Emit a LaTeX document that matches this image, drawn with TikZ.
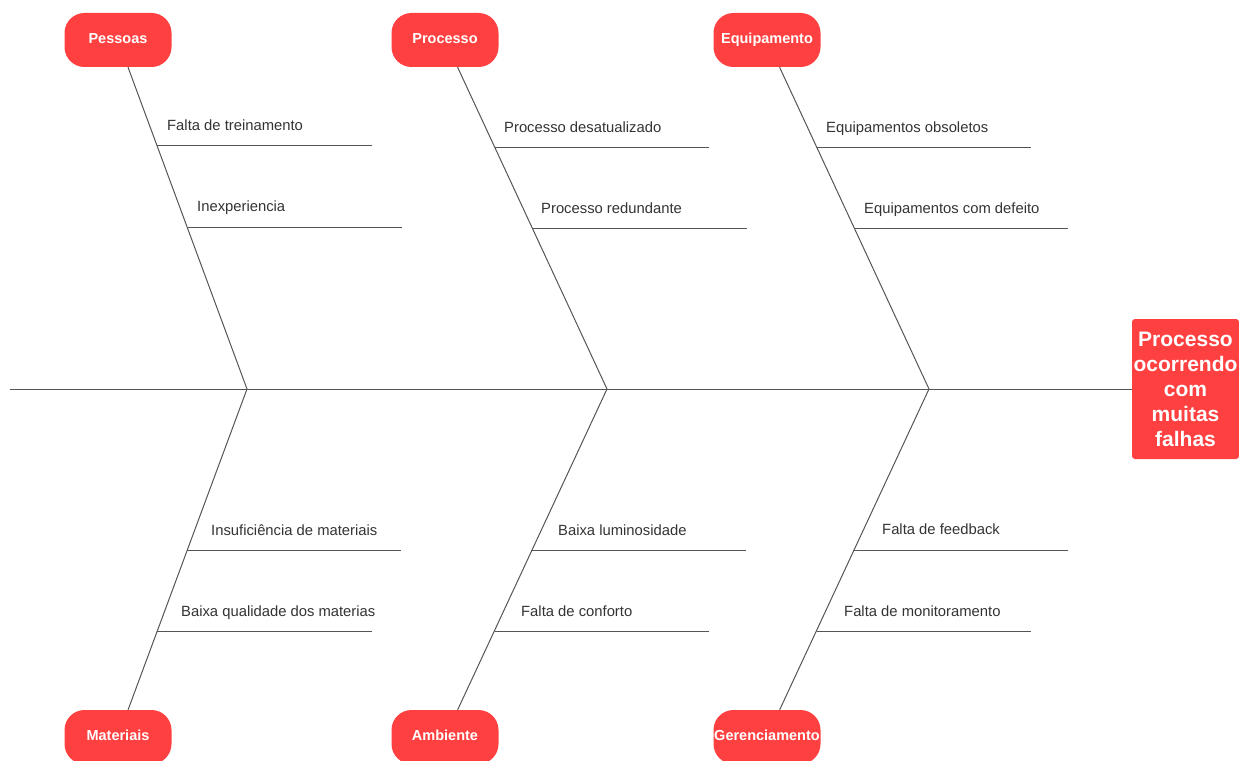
\documentclass[tikz,border=0pt]{standalone}
\usepackage{fontspec}
\setmainfont{Liberation Sans}
\definecolor{causered}{HTML}{FF4040}
\definecolor{boneline}{HTML}{555555}
\definecolor{labeltext}{HTML}{333333}
\begin{document}
\begin{tikzpicture}[x=1pt,y=-1pt,
  cat/.style={fill=causered,text=white,rounded corners=20pt,minimum width=107pt,minimum height=54pt,inner sep=0pt,text height=10pt,text depth=3.6pt,font=\fontsize{14.5}{17}\selectfont\bfseries},
  effect/.style={fill=causered,text=white,rounded corners=3pt,minimum width=107pt,minimum height=140pt,inner sep=0pt,align=center,font=\fontsize{21}{25}\selectfont\bfseries},
  cause/.style={anchor=base west,text=labeltext,inner sep=0pt,font=\fontsize{14.8}{17}\selectfont},
  bone/.style={draw=boneline,line width=1pt}]
\clip (0,0) rectangle (1239,760);
% categorias
\node[cat] (pessoas) at (118,40) {Pessoas}; \node[cat] (processo) at (445,40) {Processo}; \node[cat] (equip) at (767,40) {Equipamento};
\node[cat] (materiais) at (118,737) {Materiais}; \node[cat] (ambiente) at (445,737) {Ambiente}; \node[cat] (gerenc) at (767,737) {Gerenciamento};
\node[effect] (efeito) at (1185.5,389) {Processo\\ocorrendo\\com\\muitas\\falhas};
% espinha
\coordinate (tail) at (10,389);
\coordinate (j1) at (247,389); \coordinate (j2) at (607,389); \coordinate (j3) at (929,389);
\draw[bone] (tail) -- (efeito);
\draw[bone] (pessoas) -- (j1) -- (materiais) (processo) -- (j2) -- (ambiente) (equip) -- (j3) -- (gerenc);
% causas
\coordinate (pa1) at (157,145); \coordinate (pa2) at (372,145); \node[cause] (pa) at (167,130) {Falta de treinamento};
\coordinate (pb1) at (188,227); \coordinate (pb2) at (402,227); \node[cause] (pb) at (197,211) {Inexperiencia};
\coordinate (ra1) at (495,147); \coordinate (ra2) at (709,147); \node[cause] (ra) at (504,132) {Processo desatualizado};
\coordinate (rb1) at (533,228); \coordinate (rb2) at (747,228); \node[cause] (rb) at (541,213) {Processo redundante};
\coordinate (ea1) at (817,147); \coordinate (ea2) at (1031,147); \node[cause] (ea) at (826,132) {Equipamentos obsoletos};
\coordinate (eb1) at (855,228); \coordinate (eb2) at (1068,228); \node[cause] (eb) at (864,213) {Equipamentos com defeito};
\coordinate (ma1) at (187,550); \coordinate (ma2) at (401,550); \node[cause] (ma) at (211,535) {Insuficiência de materiais};
\coordinate (mb1) at (157,631); \coordinate (mb2) at (372,631); \node[cause] (mb) at (181,616) {Baixa qualidade dos materias};
\coordinate (aa1) at (531,550); \coordinate (aa2) at (746,550); \node[cause] (aa) at (558,535) {Baixa luminosidade};
\coordinate (ab1) at (495,631); \coordinate (ab2) at (709,631); \node[cause] (ab) at (521,616) {Falta de conforto};
\coordinate (ga1) at (853,550); \coordinate (ga2) at (1068,550); \node[cause] (ga) at (882,534) {Falta de feedback};
\coordinate (gb1) at (817,631); \coordinate (gb2) at (1031,631); \node[cause] (gb) at (844,616) {Falta de monitoramento};
\draw[bone] (pa1) -- (pa2) (pb1) -- (pb2) (ra1) -- (ra2) (rb1) -- (rb2) (ea1) -- (ea2) (eb1) -- (eb2);
\draw[bone] (ma1) -- (ma2) (mb1) -- (mb2) (aa1) -- (aa2) (ab1) -- (ab2) (ga1) -- (ga2) (gb1) -- (gb2);
\end{tikzpicture}
\end{document}
